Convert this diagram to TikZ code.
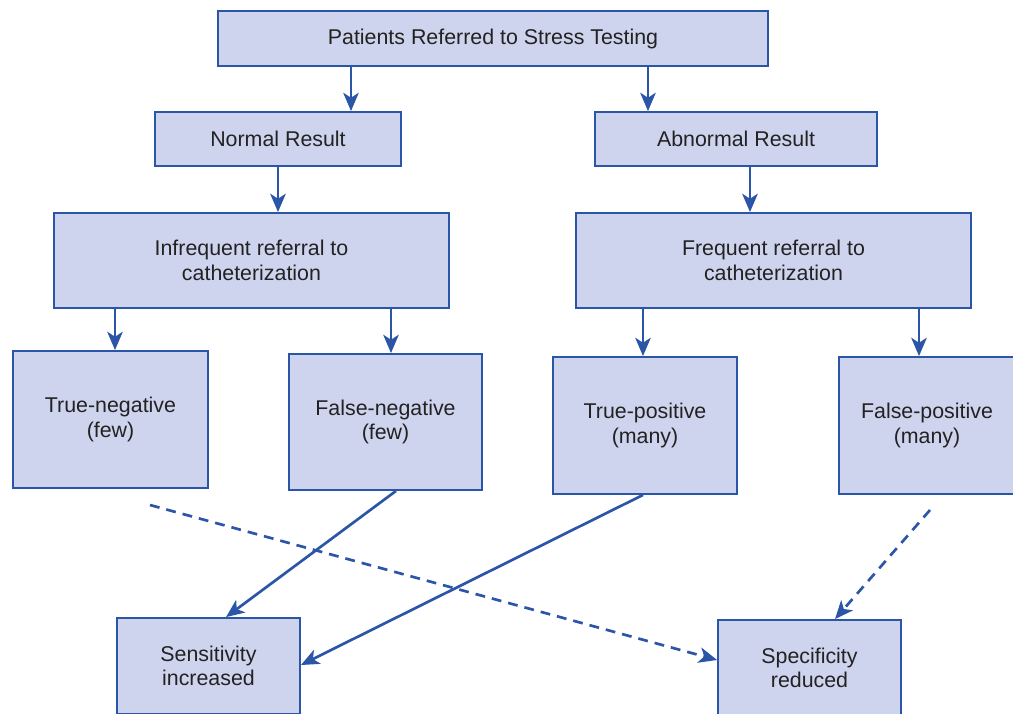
\documentclass[tikz,border=0pt]{standalone}
\usepackage{fontspec}
\setmainfont{Liberation Sans}
\usetikzlibrary{arrows.meta}
\definecolor{boxfill}{HTML}{CFD4EE}
\definecolor{boxline}{HTML}{2B55A6}
\definecolor{ink}{HTML}{222222}
\begin{document}
\begin{tikzpicture}[x=0.025cm,y=-0.025cm,
  box/.style 2 args={draw=boxline, fill=boxfill, line width=1.3pt,
    minimum width=#1*0.025cm, minimum height=#2*0.025cm,
    inner sep=0pt, align=center, text=ink,
    font=\fontsize{15.2}{17.5}\selectfont},
  arr/.style={draw=boxline, line width=1.9pt,
    -{Stealth[length=13pt,width=11pt,inset=3.5pt]}},
  dsh/.style={arr, dash pattern=on 7pt off 5pt}]
\useasboundingbox (0,0) rectangle (1013,713);
\clip (0,0) rectangle (1013,713);

% boxes
\node[box={550}{55}]  (top)  at (493,38.5)  {Patients Referred to Stress Testing};
\node[box={246}{54}]  (norm) at (278,139)   {Normal Result};
\node[box={282}{54}]  (abn)  at (736,139)   {Abnormal Result};
\node[box={395}{95}]  (inf)  at (251.5,260.5) {Infrequent referral to\\catheterization};
\node[box={395}{95}]  (freq) at (773.5,260.5) {Frequent referral to\\catheterization};
\node[box={195}{137}] (tn)   at (110.5,419.5) {True-negative\\(few)};
\node[box={193}{136}] (fn)   at (385.5,422)   {False-negative\\(few)};
\node[box={184}{137}] (tp)   at (645,425.5)   {True-positive\\(many)};
\node[box={176}{137}] (fp)   at (927,425.5)   {False-positive\\(many)};
\node[box={183}{96}]  (sens) at (208.5,666)   {Sensitivity\\increased};
\node[box={183}{96}]  (spec) at (809.5,668)   {Specificity\\reduced};

% free ends of the dashed connectors
\coordinate (tnend) at (150,505);
\coordinate (fpend) at (930,510);

% vertical connectors
\draw[arr] (top.south -| 351,0) -- (norm.north -| 351,0);
\draw[arr] (top.south -| 648,0) -- (abn.north -| 648,0);
\draw[arr] (norm.south -| 278,0) -- (inf.north -| 278,0);
\draw[arr] (abn.south -| 750,0) -- (freq.north -| 750,0);
\draw[arr] (inf.south -| 115,0) -- (tn.north -| 115,0);
\draw[arr] (inf.south -| 391,0) -- (fn.north -| 391,0);
\draw[arr] (freq.south -| 643,0) -- (tp.north -| 643,0);
\draw[arr] (freq.south -| 919,0) -- (fp.north -| 919,0);

% outcome connectors
\draw[arr] (fn.south -| 396,0) -- (sens.north -| 226,0);
\draw[arr] (tp.south -| 643,0) -- (sens.east |- 0,665);
\draw[dsh] (tnend) -- (spec.west |- 0,660);
\draw[dsh] (fpend) -- (spec.north -| 835,0);
\end{tikzpicture}
\end{document}
